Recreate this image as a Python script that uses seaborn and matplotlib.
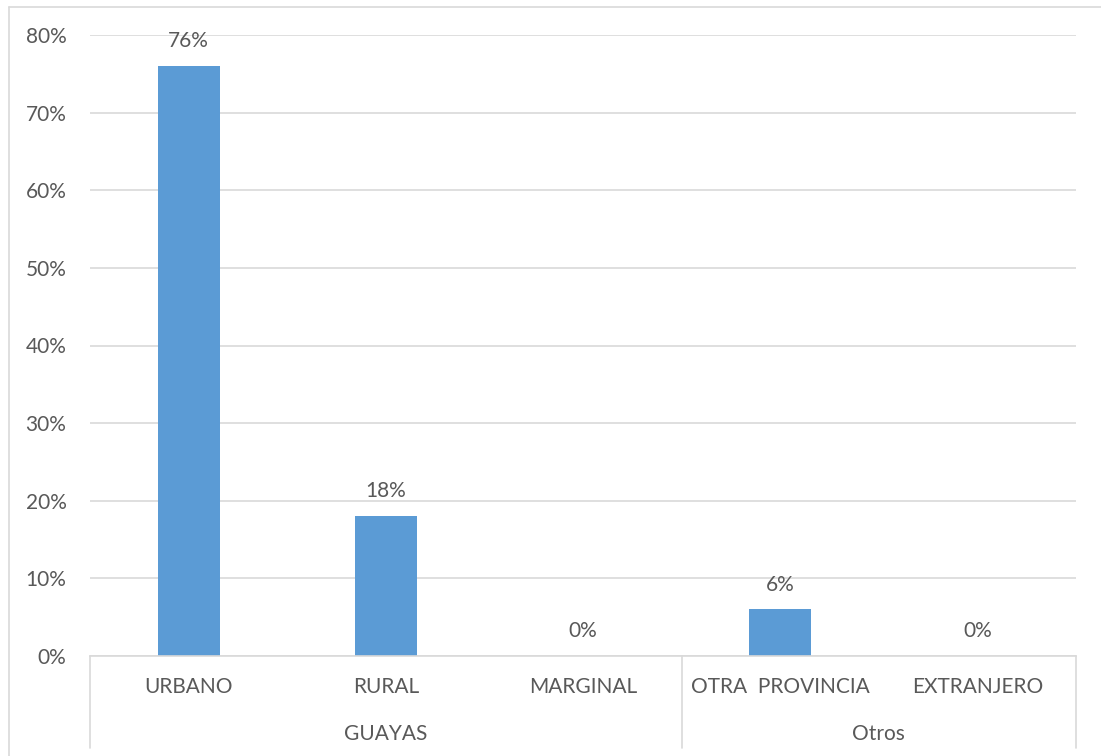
import matplotlib
matplotlib.use("Agg")
import matplotlib.pyplot as plt
from matplotlib.lines import Line2D
import seaborn as sns
import pandas as pd

categories = ["URBANO", "RURAL", "MARGINAL", "OTRA  PROVINCIA", "EXTRANJERO"]
groups = ["GUAYAS", "GUAYAS", "GUAYAS", "Otros", "Otros"]
values = [0.76, 0.18, 0.00, 0.06, 0.00]
yticks = [0.0, 0.1, 0.2, 0.3, 0.4, 0.5, 0.6, 0.7, 0.8]

df = pd.DataFrame({"categoria": categories, "grupo": groups, "valor": values})

sns.set_theme(style="white")
plt.rcParams["font.family"] = ["Lato", "DejaVu Sans"]
text_color = "#595959"
grid_color = "#d9d9d9"
bar_color = "#5b9bd5"
fs = 15

fig = plt.figure(figsize=(11.01, 7.56), dpi=100)
ax = fig.add_axes([90 / 1101, 1 - 656 / 756, (1076 - 90) / 1101, (656 - 35) / 756])

sns.barplot(data=df, x="categoria", y="valor", color=bar_color, width=0.315,
            saturation=1, ax=ax, order=categories, linewidth=0)

ax.set_ylim(0, 0.8)
ax.set_xlim(-0.5, len(categories) - 0.5)
ax.set_yticks(yticks)
ax.set_yticklabels([f"{int(round(t * 100))}%" for t in yticks])
ax.yaxis.grid(True, color=grid_color, linewidth=1.2)
ax.set_axisbelow(True)
for s in ["top", "right", "left"]:
    ax.spines[s].set_visible(False)
ax.spines["bottom"].set_color(grid_color)
ax.spines["bottom"].set_linewidth(1.2)
ax.tick_params(axis="y", length=0, labelsize=fs, labelcolor=text_color, pad=17)
ax.set_xticks([])
ax.set_xlabel("")
ax.set_ylabel("")

# value labels above each bar
for i, v in enumerate(values):
    ax.text(i, v + 0.032, f"{int(round(v * 100))}%", ha="center", va="center",
            fontsize=fs, color=text_color)

# two-level category axis
trans = ax.get_xaxis_transform()
for i, c in enumerate(categories):
    ax.text(i, -0.05, c, transform=trans, ha="center", va="center",
            fontsize=fs, color=text_color)

group_names = []
for g in groups:
    if g not in group_names:
        group_names.append(g)
for g in group_names:
    idx = [i for i, gg in enumerate(groups) if gg == g]
    ax.text((idx[0] + idx[-1]) / 2, -0.125, g, transform=trans, ha="center",
            va="center", fontsize=fs, color=text_color)

# group separators
bounds = [-0.5]
for g in group_names:
    idx = [i for i, gg in enumerate(groups) if gg == g]
    bounds.append(idx[-1] + 0.5)
for b in bounds:
    ax.add_line(Line2D([b, b], [0, -0.148], transform=trans, color=grid_color,
                       linewidth=1.2, clip_on=False))

# chart frame (left and top edges)
fx = 8.5 / 1101
fy = 1 - 6.5 / 756
fig.add_artist(Line2D([fx, fx], [0, fy], transform=fig.transFigure,
                      color=grid_color, linewidth=1.2))
fig.add_artist(Line2D([fx, 1], [fy, fy], transform=fig.transFigure,
                      color=grid_color, linewidth=1.2))

fig.savefig("out.png", dpi=100)
